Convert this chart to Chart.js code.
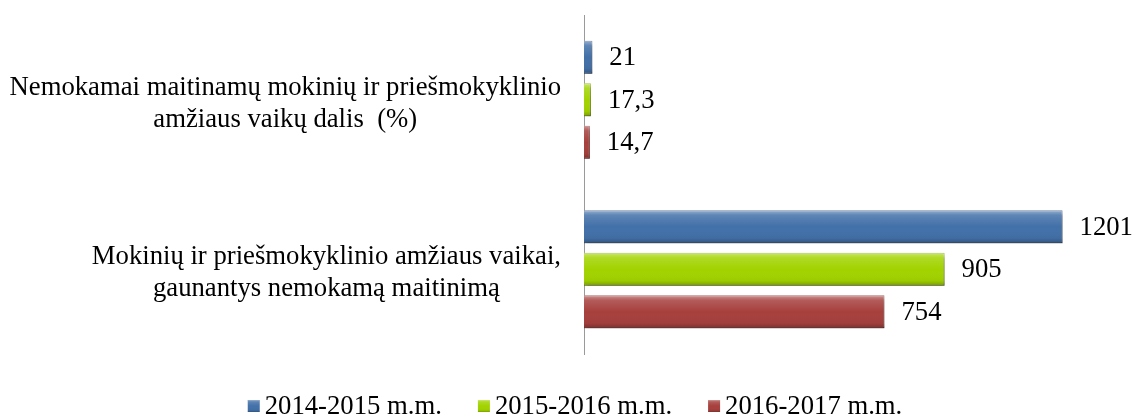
<!DOCTYPE html>
<html>
<head>
<meta charset="utf-8">
<script src="https://cdn.jsdelivr.net/npm/chart.js@4.4.0/dist/chart.umd.min.js"></script>
<style>
  html, body { margin: 0; padding: 0; background: #fff; }
</style>
</head>
<body>
<canvas id="chart" width="1132" height="417"></canvas>
<script>
// --- Data ---
const categories = [
  ['Nemokamai maitinamų mokinių ir priešmokyklinio', 'amžiaus vaikų dalis  (%)'],
  ['Mokinių ir priešmokyklinio amžiaus vaikai,', 'gaunantys nemokamą maitinimą']
];
const seriesNames = ['2014-2015 m.m.', '2015-2016 m.m.', '2016-2017 m.m.'];
const values2014 = [21, 1201];
const values2015 = [17.3, 905];
const values2016 = [14.7, 754];

const seriesColors = ['#4270A8', '#A2D300', '#A6403D'];
const seriesEdges = ['#2E5282', '#7FA600', '#7E2D2A'];
const FONT = "26.7px 'Liberation Serif', 'Times New Roman', serif";

// bevel-ish shading like the office chart style
function bevel(ctx, x, y, w, h) {
    const g = ctx.createLinearGradient(0, y, 0, y + h);
    g.addColorStop(0, 'rgba(255,255,255,0.45)');
    g.addColorStop(0.15, 'rgba(255,255,255,0.15)');
    g.addColorStop(0.5, 'rgba(255,255,255,0)');
    g.addColorStop(0.85, 'rgba(0,0,0,0.04)');
    g.addColorStop(1, 'rgba(0,0,0,0.25)');
    ctx.fillStyle = g;
    ctx.fillRect(x, y, w, h);
}

const shadeBars = {
    id: 'shadeBars',
    beforeDatasetDraw(chart) {
        const ctx = chart.ctx;
        ctx.save();
        ctx.shadowColor = 'rgba(0,0,0,0.3)';
        ctx.shadowBlur = 4;
        ctx.shadowOffsetX = 2;
        ctx.shadowOffsetY = 3;
    },
    afterDatasetDraw(chart, args) {
        const ctx = chart.ctx;
        ctx.restore();
        args.meta.data.forEach(bar => {
            const left = Math.min(bar.base, bar.x);
            const w = Math.abs(bar.x - bar.base);
            bevel(ctx, left, bar.y - bar.height / 2, w, bar.height);
        });
    }
};

const valueLabels = {
    id: 'valueLabels',
    afterDatasetsDraw(chart) {
        const ctx = chart.ctx;
        ctx.save();
        ctx.font = FONT;
        ctx.fillStyle = '#000';
        ctx.textAlign = 'left';
        ctx.textBaseline = 'middle';
        chart.data.datasets.forEach((ds, i) => {
            chart.getDatasetMeta(i).data.forEach((bar, j) => {
                const txt = String(ds.data[j]).replace('.', ',');
                ctx.fillText(txt, bar.x + 17, bar.y + 1);
            });
        });
        ctx.restore();
    }
};

// category labels: block right-aligned to the axis, lines centred inside
const categoryLabels = {
    id: 'categoryLabels',
    afterDraw(chart) {
        const ctx = chart.ctx;
        const yScale = chart.scales.y;
        const right = chart.chartArea.left - 23;
        const lineH = 32;
        ctx.save();
        ctx.font = FONT;
        ctx.fillStyle = '#000';
        ctx.textAlign = 'center';
        ctx.textBaseline = 'middle';
        categories.forEach((lines, i) => {
            const w = Math.max(...lines.map(l => ctx.measureText(l).width));
            const cx = right - w / 2;
            const cy = yScale.getPixelForValue(i) + 4;
            const y0 = cy - (lines.length - 1) * lineH / 2;
            lines.forEach((l, k) => ctx.fillText(l, cx, y0 + k * lineH));
        });
        ctx.restore();
    }
};

const bottomLegend = {
    id: 'bottomLegend',
    afterDraw(chart) {
        const ctx = chart.ctx;
        const box = 12, gapText = 5, gapItem = 36;
        const y = 406;
        ctx.save();
        ctx.font = FONT;
        ctx.textBaseline = 'middle';
        ctx.textAlign = 'left';
        const widths = seriesNames.map(n => ctx.measureText(n).width);
        const total = widths.reduce((a, b) => a + b, 0) + seriesNames.length * (box + gapText) + (seriesNames.length - 1) * gapItem;
        let x = chart.width / 2 + 9 - total / 2;
        seriesNames.forEach((name, i) => {
            ctx.fillStyle = seriesColors[i];
            ctx.fillRect(x, y - box / 2, box, box);
            bevel(ctx, x, y - box / 2, box, box);
            ctx.fillStyle = '#000';
            ctx.fillText(name, x + box + gapText, y + 1);
            x += box + gapText + widths[i] + gapItem;
        });
        ctx.restore();
    }
};

const seriesData = [values2014, values2015, values2016];

new Chart(document.getElementById('chart'), {
    type: 'bar',
    data: {
        labels: categories,
        datasets: seriesNames.map((name, i) => ({
            label: name,
            data: seriesData[i],
            backgroundColor: seriesColors[i],
            borderColor: seriesEdges[i],
            borderWidth: 1,
            categoryPercentage: 0.752,
            barPercentage: 0.776
        }))
    },
    options: {
        indexAxis: 'y',
        responsive: false,
        animation: false,
        layout: { padding: { left: 584, right: 30, top: 15, bottom: 63 } },
        scales: {
            x: { display: false, min: 0, max: 1300 },
            y: {
                grid: { display: false, drawTicks: false },
                ticks: { display: false },
                border: { display: true, color: '#9A9A9A', width: 1 }
            }
        },
        plugins: {
            legend: { display: false },
            tooltip: { enabled: false }
        }
    },
    plugins: [shadeBars, valueLabels, categoryLabels, bottomLegend]
});
</script>
</body>
</html>
